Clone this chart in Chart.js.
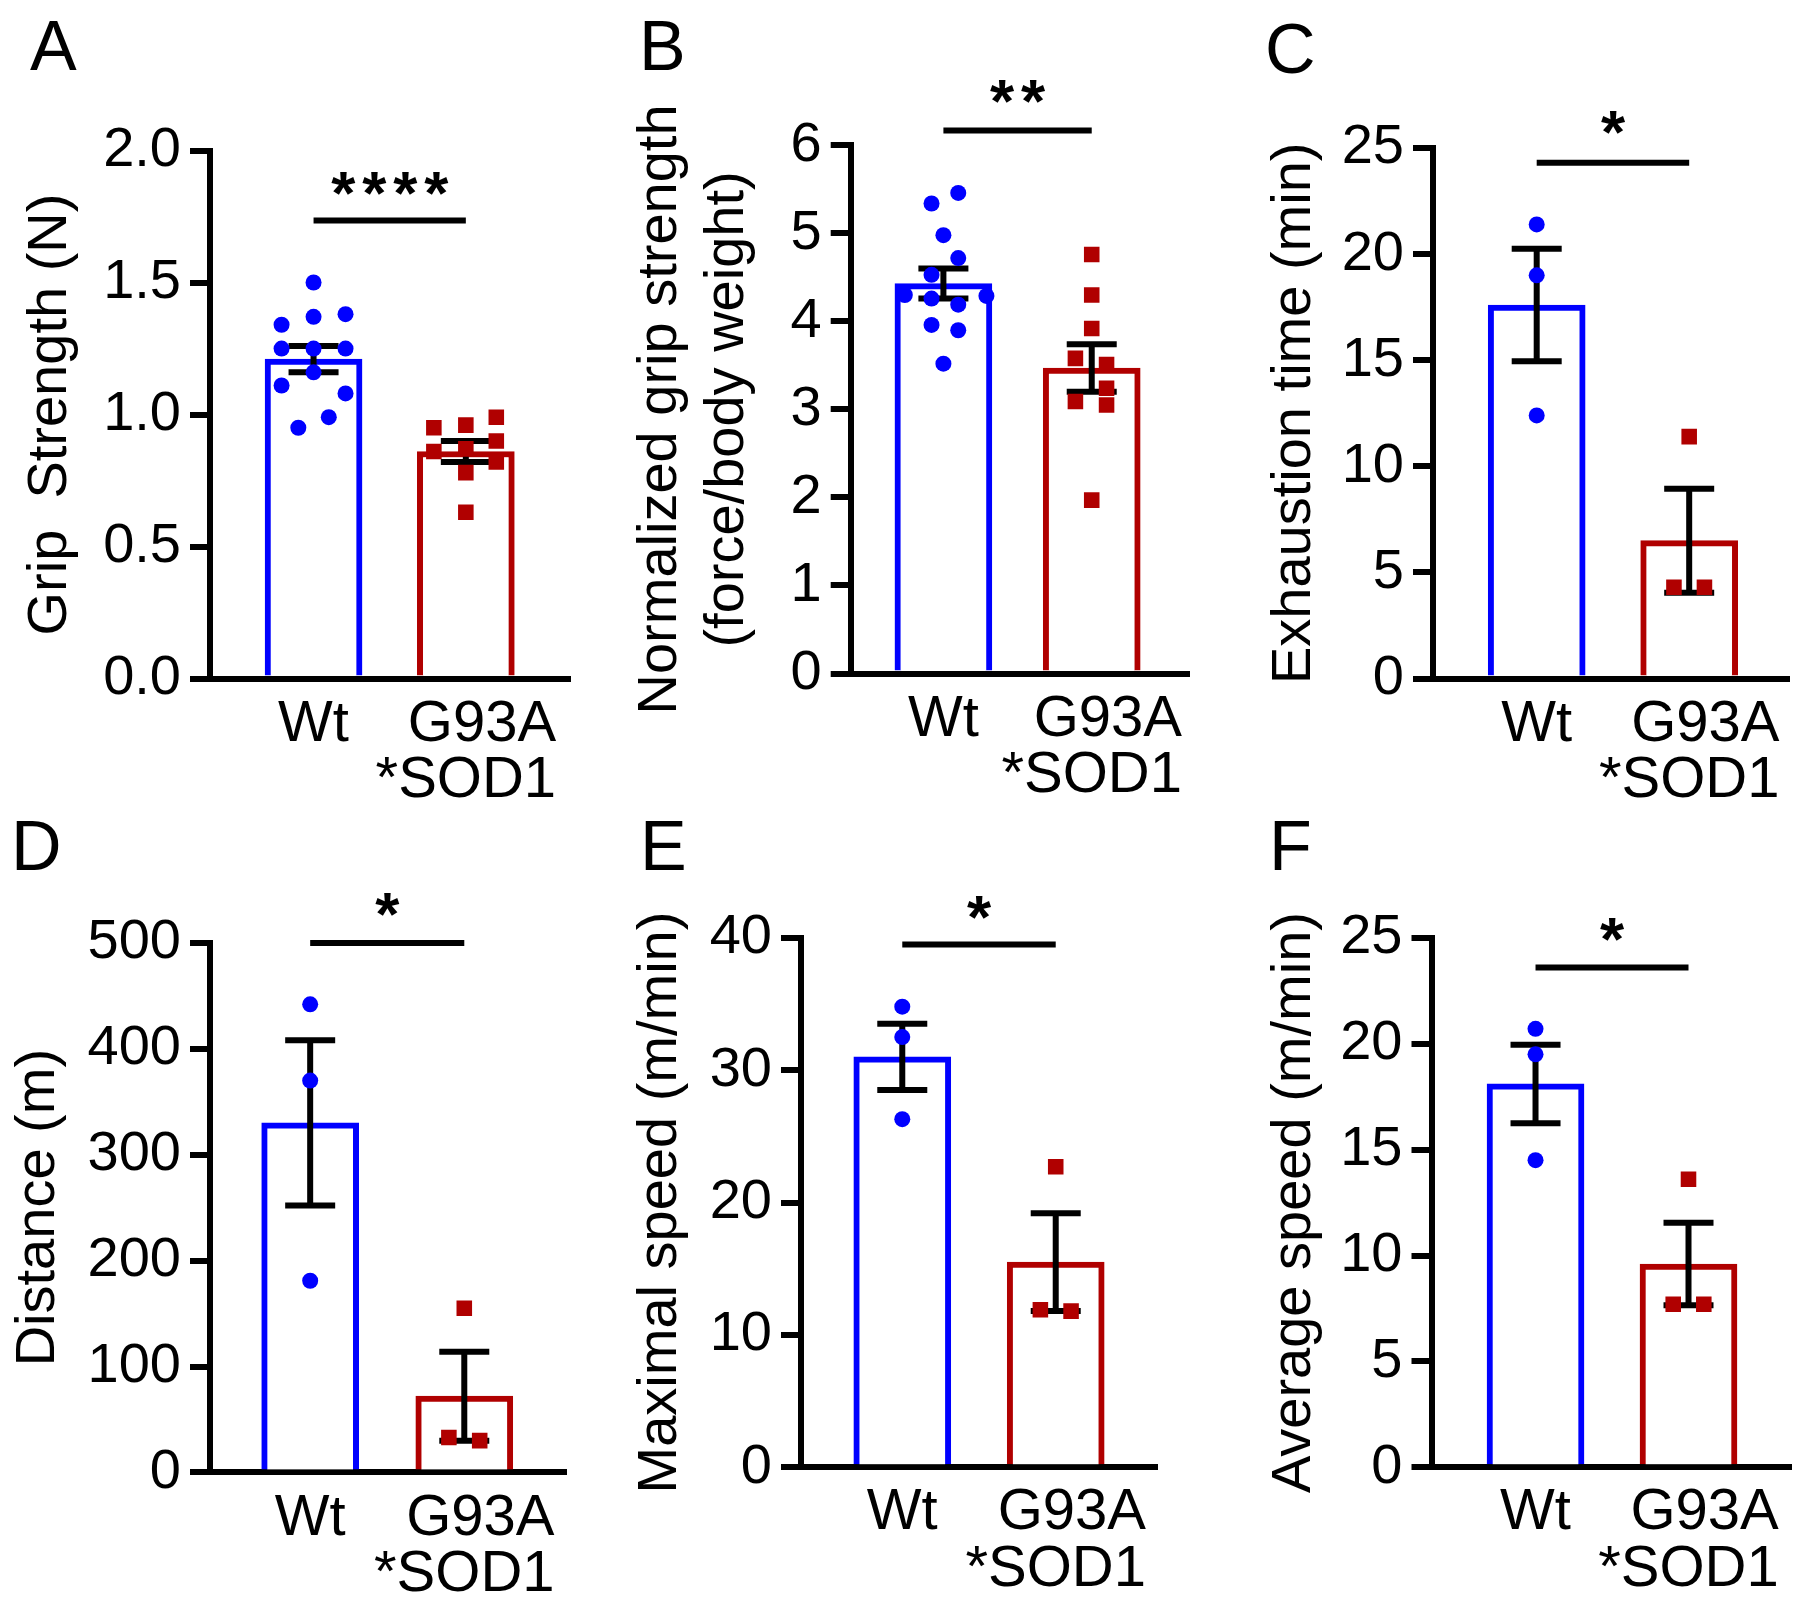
<!DOCTYPE html>
<html>
<head>
<meta charset="utf-8">
<script src="https://cdn.jsdelivr.net/npm/chart.js@4.4.0/dist/chart.umd.min.js"></script>
<style>
    body { margin: 0; background: #fff; width: 1800px; height: 1599px; overflow: hidden; position: relative; font-family: 'Liberation Sans', Arial, sans-serif; }
    canvas { position: absolute; }
    .letter { position: absolute; font-size: 70px; line-height: 70px; color: #000; }
</style>
</head>
<body>
<div class="letter" style="left:30px;top:11px">A</div>
<div class="letter" style="left:639px;top:11px">B</div>
<div class="letter" style="left:1265px;top:14px">C</div>
<div class="letter" style="left:11px;top:811px">D</div>
<div class="letter" style="left:640px;top:811px">E</div>
<div class="letter" style="left:1269px;top:811px">F</div>

<canvas id="chartA" width="600" height="800" style="left:0;top:0"></canvas>
<canvas id="chartB" width="600" height="800" style="left:600px;top:0"></canvas>
<canvas id="chartC" width="600" height="800" style="left:1200px;top:0"></canvas>
<canvas id="chartD" width="600" height="800" style="left:0;top:800px"></canvas>
<canvas id="chartE" width="600" height="800" style="left:600px;top:800px"></canvas>
<canvas id="chartF" width="600" height="800" style="left:1200px;top:800px"></canvas>

<script>
// x-axis groups (leading spaces right-align the two lines of the second label)
const groups = ['Wt', ['  G93A', '*SOD1']];

// A - grip strength (N)
const gripWt = [1.50, 1.38, 1.37, 1.34, 1.25, 1.25, 1.25, 1.16, 1.11, 1.08, 0.99, 0.95];
const gripWtX = [0, 0.21, 0, -0.21, -0.21, 0, 0.21, 0, -0.21, 0.21, 0.10, -0.10];
const gripSod = [0.95, 0.96, 0.99, 0.86, 0.90, 0.87, 0.82, 0.78, 0.63];
const gripSodX = [-0.21, 0, 0.20, -0.21, 0.20, 0, 0.20, 0, 0];
const gripMean = [1.21, 0.86];
const gripSem = [0.05, 0.04];

// B - normalized grip strength
const normWt = [5.46, 5.34, 4.98, 4.72, 4.53, 4.30, 4.26, 4.29, 4.19, 3.96, 3.90, 3.52];
const normWtX = [0.10, -0.08, 0, 0.10, -0.08, -0.26, -0.08, 0.29, 0.10, -0.08, 0.10, 0];
const normSod = [4.76, 4.30, 3.92, 3.58, 3.51, 3.24, 3.09, 3.05, 1.97];
const normSodX = [0, 0, 0, -0.11, 0.10, 0.10, -0.11, 0.10, 0];
const normMean = [4.43, 3.47];
const normSem = [0.17, 0.27];

// C - exhaustion time (min)
const exhWt = [21.4, 19.0, 12.4];
const exhSod = [11.4, 4.3, 4.3];
const exhMean = [17.6, 6.5];
const exhSem = [2.65, 2.45];

// D - distance (m)
const distWt = [442, 370, 181];
const distSod = [155, 33, 30];
const distMean = [330, 72];
const distSem = [78, 42];

// E - maximal speed (m/min)
const maxWt = [34.8, 32.5, 26.3];
const maxSod = [22.7, 11.9, 11.8];
const maxMean = [31.0, 15.5];
const maxSem = [2.5, 3.7];

// F - average speed (m/min)
const avgWt = [20.7, 19.5, 14.5];
const avgSod = [13.6, 7.7, 7.7];
const avgMean = [18.1, 9.6];
const avgSem = [1.85, 1.95];

// jitter for the 3-animal groups
const trioWtX = [0, 0, 0];
const trioSodX = [0, -0.10, 0.10];

// significance bars, panels A-F
const sigLineY = [1.735, 6.17, 24.3, 500, 39.5, 23.6];
const sigStarY = [1.874, 6.61, 26.2, 536, 42.3, 25.4];
const sigStars = ['****', '**', '*', '*', '*', '*'];

const BLUE = '#0000ff';
const RED = '#b00000';
const FONT = "'Liberation Sans', Arial, sans-serif";
const H = 800;

Chart.defaults.font.family = FONT;
Chart.defaults.color = '#000';

const panels = [
    { id: 'chartA', wt: gripWt, wtX: gripWtX, sod: gripSod, sodX: gripSodX, mean: gripMean, sem: gripSem,
      yMax: 2, yStep: 0.5, dec: 1, title: 'Grip  Strength (N)', titlePad: 17,
      left: 210, top: 150.5, right: 570, bottom: 678.6, xMin: -0.68, xMax: 1.684 },
    { id: 'chartB', wt: normWt, wtX: normWtX, sod: normSod, sodX: normSodX, mean: normMean, sem: normSem,
      yMax: 6, yStep: 1, dec: 0, title: ['Normalized grip strength', '(force/body weight)'], titlePad: 27,
      left: 250.7, top: 145.4, right: 601.7, bottom: 673.5, xMin: -0.625, xMax: 1.66 },
    { id: 'chartC', wt: exhWt, wtX: trioWtX, sod: exhSod, sodX: trioSodX, mean: exhMean, sem: exhSem,
      yMax: 25, yStep: 5, dec: 0, title: 'Exhaustion time (min)', titlePad: 61,
      left: 233, top: 148, right: 591, bottom: 678.6, xMin: -0.68, xMax: 1.66 },
    { id: 'chartD', wt: distWt, wtX: trioWtX, sod: distSod, sodX: trioSodX, mean: distMean, sem: distSem,
      yMax: 500, yStep: 100, dec: 0, title: 'Distance (m)', titlePad: 5,
      left: 210, top: 142.9, right: 566, bottom: 672.4, xMin: -0.65, xMax: 1.66 },
    { id: 'chartE', wt: maxWt, wtX: trioWtX, sod: maxSod, sodX: trioSodX, mean: maxMean, sem: maxSem,
      yMax: 40, yStep: 10, dec: 0, title: 'Maximal speed (m/min)', titlePad: 27,
      left: 201, top: 137.8, right: 557, bottom: 667.3, xMin: -0.66, xMax: 1.66 },
    { id: 'chartF', wt: avgWt, wtX: trioWtX, sod: avgSod, sodX: trioSodX, mean: avgMean, sem: avgSem,
      yMax: 25, yStep: 5, dec: 0, title: 'Average speed (m/min)', titlePad: 61,
      left: 231.5, top: 137.8, right: 591, bottom: 667.3, xMin: -0.68, xMax: 1.67 }
];

// Error bars (drawn right after the bars, under the dots) and significance line
function makeOverlay(p, k) {
    return {
        id: 'overlay' + k,
        afterDatasetDraw(chart, args) {
            if (args.meta.type !== 'bar') return;
            const xs = chart.scales.x, ys = chart.scales.y, ctx = chart.ctx;
            ctx.save();
            ctx.strokeStyle = '#000';
            ctx.lineWidth = 6;
            p.mean.forEach((m, i) => {
                const px = xs.getPixelForValue(i);
                const top = ys.getPixelForValue(m + p.sem[i]);
                const bot = ys.getPixelForValue(m - p.sem[i]);
                ctx.beginPath();
                ctx.moveTo(px, top); ctx.lineTo(px, bot);
                ctx.moveTo(px - 25, top); ctx.lineTo(px + 25, top);
                ctx.moveTo(px - 25, bot); ctx.lineTo(px + 25, bot);
                ctx.stroke();
            });
            ctx.restore();
        },
        afterDraw(chart) {
            const xs = chart.scales.x, ys = chart.scales.y, ctx = chart.ctx;
            const x0 = xs.getPixelForValue(0), x1 = xs.getPixelForValue(1);
            const ly = ys.getPixelForValue(sigLineY[k]);
            ctx.save();
            ctx.strokeStyle = '#000';
            ctx.lineWidth = 6;
            ctx.beginPath();
            ctx.moveTo(x0, ly); ctx.lineTo(x1, ly);
            ctx.stroke();

            ctx.font = 'bold 62px ' + FONT;
            ctx.fillStyle = '#000';
            ctx.textAlign = 'center';
            ctx.textBaseline = 'alphabetic';
            const m = ctx.measureText('*');
            const sy = ys.getPixelForValue(sigStarY[k]) + (m.actualBoundingBoxAscent - m.actualBoundingBoxDescent) / 2;
            const n = sigStars[k].length;
            const cx = (x0 + x1) / 2;
            for (let i = 0; i < n; i++) {
                ctx.fillText('*', cx + (i - (n - 1) / 2) * 31, sy);
            }
            ctx.restore();
        }
    };
}

panels.forEach((p, k) => {
    const ctx = document.getElementById(p.id).getContext('2d');
    new Chart(ctx, {
        type: 'bar',
        data: {
            datasets: [
                {
                    type: 'scatter',
                    order: 1,
                    data: p.wt.map((v, i) => ({ x: p.wtX[i], y: v })),
                    pointStyle: 'circle',
                    pointRadius: 8,
                    pointBackgroundColor: BLUE,
                    pointBorderWidth: 0
                },
                {
                    type: 'scatter',
                    order: 1,
                    data: p.sod.map((v, i) => ({ x: 1 + p.sodX[i], y: v })),
                    pointStyle: 'rect',
                    pointRadius: 11,
                    pointBackgroundColor: RED,
                    pointBorderWidth: 0
                },
                {
                    type: 'bar',
                    order: 2,
                    data: p.mean.map((v, i) => ({ x: i, y: v })),
                    backgroundColor: '#fff',
                    borderColor: [BLUE, RED],
                    borderWidth: 6,
                    barThickness: 97
                }
            ]
        },
        options: {
            responsive: false,
            animation: false,
            devicePixelRatio: 1,
            layout: {
                autoPadding: false,
                padding: { left: 0, top: p.top, right: 600 - p.right, bottom: 0 }
            },
            plugins: {
                legend: { display: false },
                tooltip: { enabled: false }
            },
            scales: {
                x: {
                    type: 'linear',
                    offset: false,
                    min: p.xMin,
                    max: p.xMax,
                    afterBuildTicks: s => { s.ticks = [{ value: 0 }, { value: 1 }]; },
                    afterFit: s => { s.height = H - p.bottom; },
                    grid: { display: false, drawTicks: false },
                    border: { display: true, color: '#000', width: 6 },
                    ticks: {
                        autoSkip: false,
                        maxRotation: 0,
                        padding: 18,
                        color: '#000',
                        font: { size: 58, lineHeight: 0.97 },
                        callback: (v, i) => groups[i]
                    }
                },
                y: {
                    min: 0,
                    max: p.yMax,
                    afterFit: s => { s.width = p.left; },
                    grid: { drawOnChartArea: false, drawTicks: true, tickLength: 20, color: '#000', lineWidth: 6 },
                    border: { display: true, color: '#000', width: 6 },
                    ticks: {
                        stepSize: p.yStep,
                        padding: 9,
                        color: '#000',
                        font: { size: 56 },
                        callback: v => v.toFixed(p.dec)
                    },
                    title: {
                        display: true,
                        text: p.title,
                        color: '#000',
                        font: { size: 56, lineHeight: 1.2 },
                        padding: { top: p.titlePad, bottom: 0 }
                    }
                }
            }
        },
        plugins: [makeOverlay(p, k)]
    });
});
</script>
</body>
</html>
